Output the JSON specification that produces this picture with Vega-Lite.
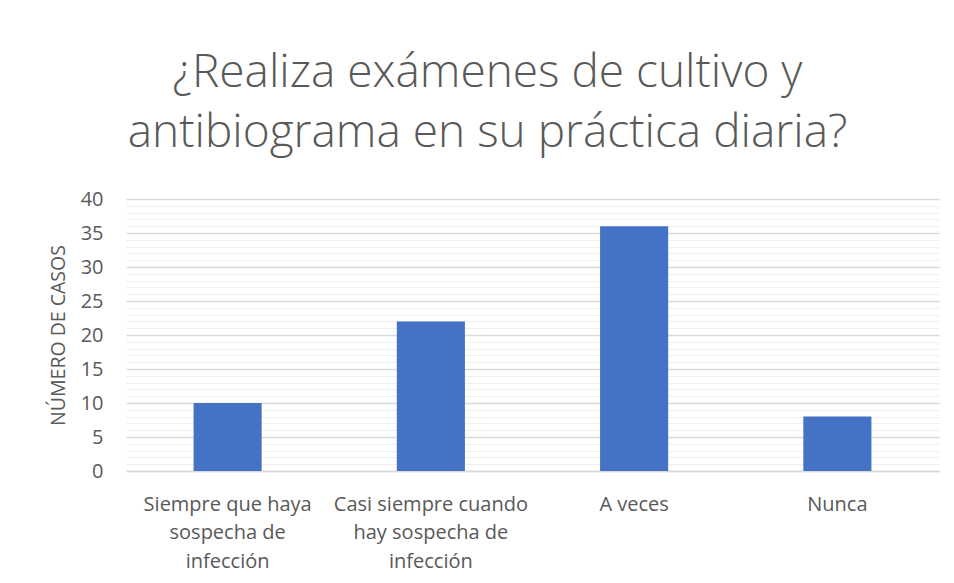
{
  "$schema": "https://vega.github.io/schema/vega-lite/v6.json",
  "width": 813,
  "height": 272,
  "autosize": {"type": "none"},
  "padding": {"left": 126, "top": 199, "right": 15, "bottom": 112},
  "background": "white",
  "title": {
    "text": ["¿Realiza exámenes de cultivo y", "antibiograma en su práctica diaria?"],
    "font": "Open Sans",
    "fontWeight": 300,
    "fontSize": 46,
    "color": "#595959",
    "lineHeight": 60,
    "anchor": "middle",
    "frame": "group",
    "dx": -45,
    "offset": 32
  },
  "data": {
    "values": [
      {"respuesta": "Siempre que haya\nsospecha de\ninfección", "casos": 10},
      {"respuesta": "Casi siempre cuando\nhay sospecha de\ninfección", "casos": 22},
      {"respuesta": "A veces", "casos": 36},
      {"respuesta": "Nunca", "casos": 8}
    ]
  },
  "mark": {"type": "bar", "color": "#4472C4"},
  "encoding": {
    "x": {
      "field": "respuesta",
      "type": "nominal",
      "sort": null,
      "scale": {"paddingInner": 0.665, "paddingOuter": 0.3325},
      "axis": {
        "title": null,
        "labelAngle": 0,
        "labelExpr": "split(datum.label, '\\n')",
        "labelLineHeight": 28.5,
        "labelFont": "Open Sans",
        "labelFontSize": 20,
        "labelColor": "#595959",
        "labelPadding": 23,
        "labelLimit": 300,
        "ticks": false,
        "domainColor": "#d9d9d9",
        "domainWidth": 1.5,
        "grid": false
      }
    },
    "y": {
      "field": "casos",
      "type": "quantitative",
      "scale": {"domain": [0, 40], "nice": false},
      "axis": {
        "title": "NÚMERO DE CASOS",
        "titleFont": "Open Sans",
        "titleFontWeight": "normal",
        "titleFontSize": 19.5,
        "titleColor": "#595959",
        "titlePadding": 12,
        "values": [0,1,2,3,4,5,6,7,8,9,10,11,12,13,14,15,16,17,18,19,20,21,22,23,24,25,26,27,28,29,30,31,32,33,34,35,36,37,38,39,40],
        "labelExpr": "datum.value % 5 === 0 ? datum.label : ''",
        "labelFont": "Open Sans",
        "labelFontSize": 20,
        "labelColor": "#595959",
        "labelPadding": 23,
        "ticks": false,
        "domain": false,
        "grid": true,
        "gridColor": {"condition": {"test": "datum.value % 5 === 0", "value": "#d9d9d9"}, "value": "#efefef"},
        "gridWidth": {"condition": {"test": "datum.value % 5 === 0", "value": 1.5}, "value": 1}
      }
    }
  },
  "config": {"view": {"stroke": null}}
}
